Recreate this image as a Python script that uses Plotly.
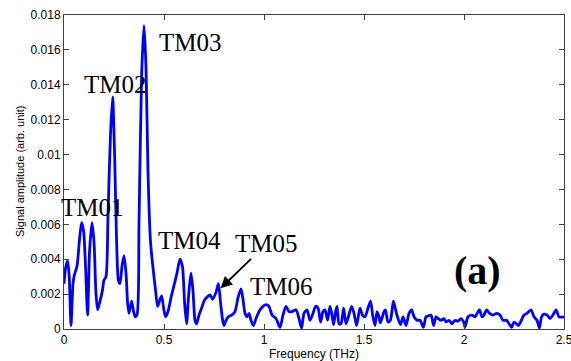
import plotly.graph_objects as go

freq = [0.000, 0.008, 0.018, 0.026, 0.035, 0.045, 0.052, 0.065, 0.078, 0.088, 0.098, 0.108, 0.118, 0.128, 0.140,
        0.150, 0.160, 0.168, 0.180, 0.192, 0.200, 0.210, 0.220, 0.232, 0.243, 0.253, 0.263, 0.272, 0.280, 0.290,
        0.300, 0.310, 0.318, 0.325, 0.338, 0.348, 0.356, 0.365, 0.375, 0.388, 0.400, 0.410, 0.420, 0.432, 0.445,
        0.458, 0.468, 0.480, 0.488, 0.498, 0.508, 0.520, 0.535, 0.550, 0.565, 0.580, 0.592, 0.603, 0.613, 0.623,
        0.635, 0.645, 0.655, 0.663, 0.675, 0.688, 0.700, 0.713, 0.730, 0.743, 0.760, 0.772, 0.782, 0.792, 0.800,
        0.810, 0.822, 0.838, 0.855, 0.870, 0.885, 0.895, 0.905, 0.915, 0.925, 0.935, 0.947, 0.960, 0.980, 0.995,
        1.010, 1.025, 1.040, 1.060, 1.080, 1.095, 1.110, 1.125, 1.140, 1.160, 1.175, 1.188, 1.200, 1.215, 1.230,
        1.245, 1.258, 1.270, 1.283, 1.295, 1.305, 1.318, 1.330, 1.340, 1.348, 1.358, 1.365, 1.375, 1.385, 1.398,
        1.410, 1.422, 1.438, 1.450, 1.463, 1.480, 1.492, 1.505, 1.520, 1.533, 1.543, 1.555, 1.565, 1.575, 1.582,
        1.600, 1.607, 1.620, 1.632, 1.647, 1.660, 1.670, 1.683, 1.695, 1.710, 1.725, 1.738, 1.750, 1.765, 1.780,
        1.797, 1.810, 1.822, 1.835, 1.848, 1.860, 1.870, 1.885, 1.900, 1.910, 1.925, 1.940, 1.955, 1.970, 1.985,
        2.000, 2.005, 2.020, 2.040, 2.055, 2.077, 2.090, 2.100, 2.113, 2.128, 2.145, 2.163, 2.180, 2.195, 2.213,
        2.225, 2.238, 2.250, 2.262, 2.272, 2.283, 2.300, 2.315, 2.335, 2.350, 2.365, 2.377, 2.388, 2.400, 2.415,
        2.430, 2.445, 2.460, 2.475, 2.490, 2.500]

amp_milli = [2.6, 3.5, 3.9, 3.0, 0.2, 2.6, 3.1, 3.6, 5.2, 6.1, 5.6, 3.5, 0.8, 4.5, 6.1,
             5.0, 2.0, 1.1, 1.6, 2.2, 2.8, 3.0, 6.5, 11.0, 13.3, 10.0, 5.0, 2.8, 2.6, 3.6,
             4.2, 3.2, 1.5, 0.9, 1.6, 1.0, 0.7, 0.8, 6.0, 14.5, 17.4, 15.0, 9.0, 5.1, 3.5,
             2.2, 1.3, 1.7, 1.9, 1.2, 0.7, 1.0, 1.8, 2.5, 3.2, 4.0, 3.6, 1.5, 0.3, 1.9,
             3.2, 2.2, 0.5, 0.3, 0.8, 1.2, 1.6, 1.8, 1.95, 1.7, 2.1, 2.6, 1.6, 0.6, 0.2,
             0.5, 0.7, 0.8, 1.0, 1.8, 2.3, 1.7, 0.9, 0.7, 0.9, 0.5, 0.2, 0.6, 1.1, 1.3,
             1.4, 1.3, 0.8, 0.6, 0.1, 0.8, 1.3, 1.0, 1.0, 1.1, 0.6, 0.05, 0.9, 1.1, 0.5,
             0.9, 1.3, 1.2, 0.4, 1.0, 1.1, 0.5, 1.3, 0.8, 0.25, 1.0, 1.3, 0.3, 0.3, 1.2,
             0.3, 0.7, 1.3, 0.9, 0.2, 1.2, 0.8, 0.7, 1.2, 1.6, 0.8, 0.2, 1.0, 0.7, 0.35,
             1.0, 1.1, 0.4, 0.5, 1.6, 1.0, 0.6, 0.25, 0.7, 0.2, 0.9, 1.1, 0.7, 0.5, 0.5,
             0.1, 0.7, 0.75, 0.8, 0.2, 0.7, 0.6, 0.5, 0.6, 0.4, 0.5, 0.3, 0.5, 0.45, 0.6,
             0.35, 0.1, 0.7, 0.8, 0.7, 1.1, 0.7, 0.8, 1.1, 0.9, 0.8, 0.9, 0.8, 0.5, 0.5,
             0.3, 0.1, 0.4, 0.3, 0.2, 0.4, 0.8, 0.9, 1.1, 0.7, 0.5, 0.05, 0.7, 0.85, 0.8,
             0.6, 0.8, 1.1, 0.7, 0.68, 0.7]

amplitude = [v / 1000.0 for v in amp_milli]

mode_labels = ["TM01", "TM02", "TM03", "TM04", "TM06"]
mode_x = [0.144, 0.259, 0.630, 0.625, 1.089]
mode_y = [0.00697, 0.01403, 0.01643, 0.00510, 0.00246]

arrow_label = "TM05"
arrow_tip = (0.783, 0.00233)

y_ticks = [0, 0.002, 0.004, 0.006, 0.008, 0.010, 0.012, 0.014, 0.016, 0.018]
y_tick_text = ["0", "0.002", "0.004", "0.006", "0.008", "0.01", "0.012", "0.014", "0.016", "0.018"]
x_ticks = [0, 0.5, 1, 1.5, 2, 2.5]
x_tick_text = ["0", "0.5", "1", "1.5", "2", "2.5"]

fig = go.Figure()
fig.add_trace(go.Scatter(x=freq, y=amplitude, mode="lines",
                         line=dict(color="#0000FF", width=2.8, shape="spline", smoothing=0.7),
                         showlegend=False, hoverinfo="skip"))

serif = "Liberation Serif, Times New Roman, serif"
sans = "Liberation Sans, Arial, sans-serif"
for t, x, y in zip(mode_labels, mode_x, mode_y):
    fig.add_annotation(x=x, y=y, text=t, showarrow=False, xanchor="center", yanchor="middle",
                       font=dict(family=serif, size=25, color="black"))

fig.add_annotation(x=arrow_tip[0], y=arrow_tip[1], text="", showarrow=True,
                   ax=32, ay=-31, arrowhead=2, arrowsize=1.3, arrowwidth=1.8, arrowcolor="black")
fig.add_annotation(x=1.013, y=0.00488, text=arrow_label, showarrow=False, xanchor="center", yanchor="middle",
                   font=dict(family=serif, size=25, color="black"))

fig.add_annotation(x=2.067, y=0.00338, text="<b>(a)</b>", showarrow=False, xanchor="center", yanchor="middle",
                   font=dict(family=serif, size=40, color="black"))

# y-axis title placed as rotated text next to the tick labels
fig.add_annotation(xref="paper", yref="paper", x=-0.088, y=0.5, text="Signal amplitude (arb. unit)",
                   textangle=-90, showarrow=False, xanchor="center", yanchor="middle",
                   font=dict(family=sans, size=11, color="black"))

axis_common = dict(showline=True, linecolor="#404040", linewidth=1, mirror="ticks",
                   ticks="inside", ticklen=5, tickcolor="#404040", showgrid=False, zeroline=False,
                   automargin=False,
                   tickfont=dict(family=sans, size=12, color="black"))

fig.update_xaxes(range=[0, 2.5], tickvals=x_ticks, ticktext=x_tick_text, ticklabeloverflow="allow",
                 title=dict(text="Frequency (THz)",
                            font=dict(family=sans, size=12, color="black")),
                 **axis_common)
fig.update_yaxes(range=[0, 0.018], tickvals=y_ticks, ticktext=y_tick_text,
                 **axis_common)

fig.update_layout(width=571, height=361, margin=dict(l=64, r=7, t=15, b=32),
                  plot_bgcolor="white", paper_bgcolor="white")

fig.write_html("out.html")
